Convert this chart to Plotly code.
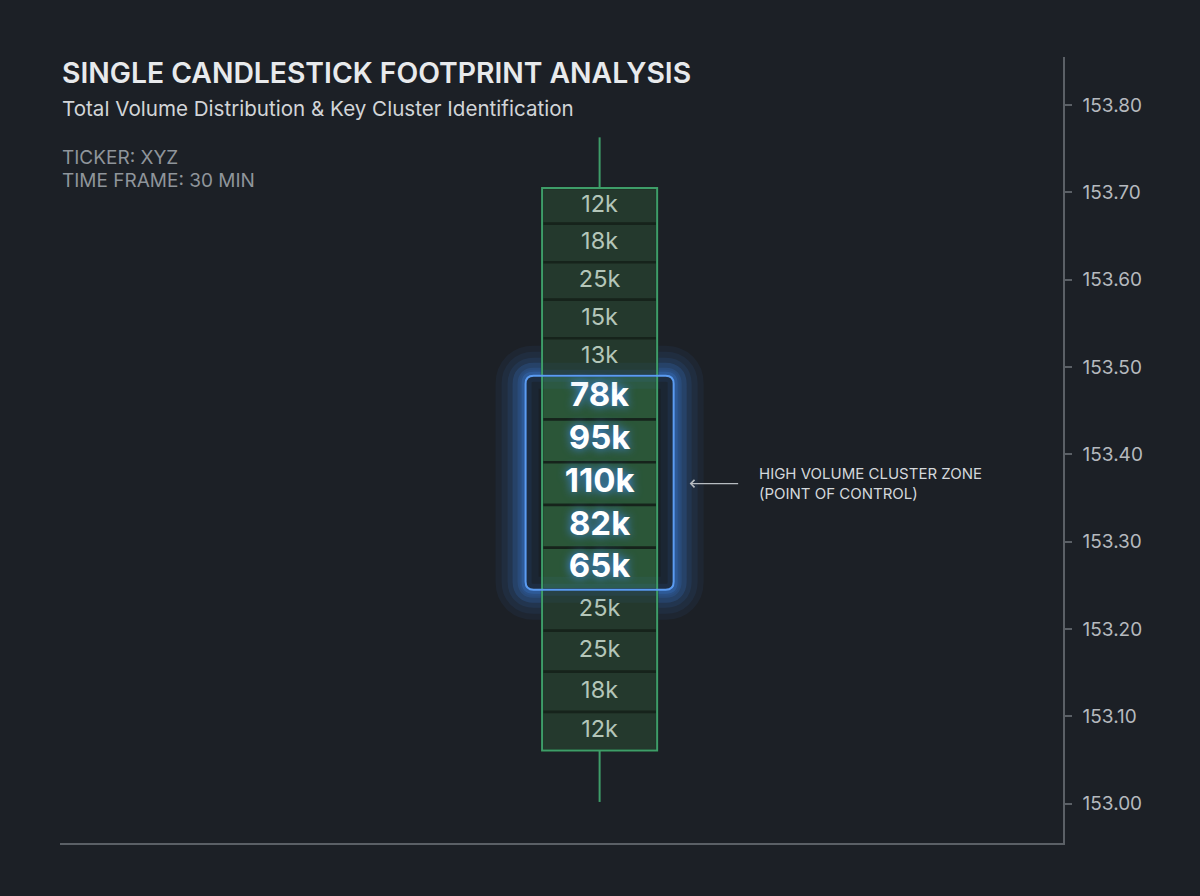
import plotly.graph_objects as go

# ---------------- data ----------------
volume_labels = ["12k", "18k", "25k", "15k", "13k", "78k", "95k", "110k", "82k", "65k", "25k", "25k", "18k", "12k"]
# price boundaries of each footprint cell (top -> bottom), 15 edges for 14 cells
price_edges = [153.705, 153.664, 153.620, 153.577, 153.533, 153.490, 153.440, 153.391,
               153.342, 153.293, 153.245, 153.198, 153.151, 153.105, 153.061]
high_cluster = [False, False, False, False, False, True, True, True, True, True, False, False, False, False]
candle_high = 153.763
candle_low = 153.002
candle_x = 0.538
price_ticks = [153.00, 153.10, 153.20, 153.30, 153.40, 153.50, 153.60, 153.70, 153.80]

title = "SINGLE CANDLESTICK FOOTPRINT ANALYSIS"
subtitle = "Total Volume Distribution & Key Cluster Identification"
ticker_line = "TICKER: XYZ"
timeframe_line = "TIME FRAME: 30 MIN"
callout = "HIGH VOLUME CLUSTER ZONE<br>(POINT OF CONTROL)"

# ---------------- style ----------------
BG = "#1c2026"
GREEN = "#3e9d69"
CELL_FILL = "#24392d"
HOT_FILL = "#2b5638"
SEP = "#16231b"
BLUE = "#3f86ea"
AXIS = "#5b6066"
FONT = "Inter"
body_w = 0.1147
box_half = 0.0738

tops = price_edges[:-1]
bottoms = price_edges[1:]
heights = [t - b for t, b in zip(tops, bottoms)]
centers = [(t + b) / 2 for t, b in zip(tops, bottoms)]

fig = go.Figure()

# footprint cells
fig.add_trace(go.Bar(
    x=[candle_x] * len(heights), y=heights, base=bottoms, width=body_w,
    marker=dict(color=[HOT_FILL if h else CELL_FILL for h in high_cluster],
                line=dict(color=SEP, width=2.5)),
    hoverinfo="skip", showlegend=False,
))

# wicks
body_top = max(price_edges)
body_bot = min(price_edges)
fig.add_trace(go.Scatter(
    x=[candle_x, candle_x, None, candle_x, candle_x],
    y=[candle_high, body_top, None, body_bot, candle_low],
    mode="lines", line=dict(color=GREEN, width=2),
    hoverinfo="skip", showlegend=False,
))

# labels: normal cells
nx = [candle_x for h in high_cluster if not h]
ny = [c for c, h in zip(centers, high_cluster) if not h]
nt = [l for l, h in zip(volume_labels, high_cluster) if not h]
fig.add_trace(go.Scatter(
    x=nx, y=ny, text=nt, mode="text",
    textfont=dict(family=FONT, size=23.5, color="#b4c6b9"),
    hoverinfo="skip", showlegend=False,
))
# labels: high volume cells
hx = [candle_x for h in high_cluster if h]
hy = [c for c, h in zip(centers, high_cluster) if h]
ht = [l for l, h in zip(volume_labels, high_cluster) if h]
fig.add_trace(go.Scatter(
    x=hx, y=hy, text=ht, mode="text",
    textfont=dict(family=FONT, size=33, color="#ffffff", weight=700,
                  shadow="0px 0px 10px rgba(70,140,255,0.95)"),
    hoverinfo="skip", showlegend=False,
))

# highlight zone (rounded rectangle in data coordinates)
hz_top = max(t for t, h in zip(tops, high_cluster) if h)
hz_bot = min(b for b, h in zip(bottoms, high_cluster) if h)
x0, x1 = candle_x - box_half, candle_x + box_half
rx = 8 / 1003
ry = 8 / 873.75


def rounded(x0, x1, y0, y1, rx, ry):
    return (f"M{x0+rx},{y1} L{x1-rx},{y1} Q{x1},{y1} {x1},{y1-ry} "
            f"L{x1},{y0+ry} Q{x1},{y0} {x1-rx},{y0} L{x0+rx},{y0} "
            f"Q{x0},{y0} {x0},{y0+ry} L{x0},{y1-ry} Q{x0},{y1} {x0+rx},{y1} Z")


box_path = rounded(x0, x1, hz_bot, hz_top, rx, ry)
shapes = []
# outer glow (below traces)
for w, op in [(60, 0.06), (48, 0.07), (36, 0.09), (26, 0.11), (16, 0.14), (8, 0.2)]:
    shapes.append(dict(type="path", path=box_path, xref="x", yref="y", layer="below",
                       line=dict(color=BLUE, width=w), opacity=op))
# dark interior covering the inner half of the glow
shapes.append(dict(type="path", path=box_path, xref="x", yref="y", layer="below",
                   fillcolor="#192027", line=dict(width=0)))
# faint glow bleeding onto neighbouring cells
for w, op in [(26, 0.06), (12, 0.08)]:
    shapes.append(dict(type="path", path=box_path, xref="x", yref="y", layer="above",
                       line=dict(color=BLUE, width=w), opacity=op))
# body outline
shapes.append(dict(type="rect", xref="x", yref="y", x0=candle_x - body_w / 2, x1=candle_x + body_w / 2,
                   y0=body_bot, y1=body_top, line=dict(color=GREEN, width=2), layer="above"))
# crisp zone outline
shapes.append(dict(type="path", path=box_path, xref="x", yref="y", layer="above",
                   line=dict(color="#5b9cf2", width=2)))

y_poc = centers[volume_labels.index("110k")]
annotations = [
    dict(text=title, x=0, y=(843 - 73) / 786, xref="paper", yref="paper", xanchor="left", yanchor="middle",
         showarrow=False, font=dict(family=FONT, size=28.3, color="#e8eaec", weight=600)),
    dict(text=subtitle, x=0, y=(843 - 108) / 786, xref="paper", yref="paper", xanchor="left", yanchor="middle",
         showarrow=False, font=dict(family=FONT, size=20.6, color="#d2d5d8")),
    dict(text=ticker_line, x=0, y=(843 - 157) / 786, xref="paper", yref="paper", xanchor="left", yanchor="middle",
         showarrow=False, font=dict(family=FONT, size=19, color="#8f959b")),
    dict(text=timeframe_line, x=0, y=(843 - 181) / 786, xref="paper", yref="paper", xanchor="left", yanchor="middle",
         showarrow=False, font=dict(family=FONT, size=19, color="#8f959b")),
    # arrow
    dict(x=x1 + 16 / 1003, y=y_poc, xref="x", yref="y",
         ax=50, ay=0, showarrow=True, arrowhead=4, arrowsize=1.2, arrowwidth=1.2, arrowcolor="#b7bcc1",
         text=""),
    dict(text=callout, x=x1 + 83 / 1003, y=y_poc, xref="x", yref="y",
         xanchor="left", yanchor="middle", align="left", showarrow=False,
         font=dict(family=FONT, size=15, color="#d4d8dc")),
]

fig.update_layout(
    width=1200, height=896,
    paper_bgcolor=BG, plot_bgcolor=BG,
    margin=dict(l=60, r=137, t=57, b=53),
    barmode="overlay", showlegend=False,
    shapes=shapes, annotations=annotations,
    xaxis=dict(range=[0, 1], showgrid=False, zeroline=False, showticklabels=False, ticks="",
               showline=True, linecolor=AXIS, linewidth=1.5, fixedrange=True),
    yaxis=dict(range=[152.955, 153.855], side="right", showgrid=False, zeroline=False,
               tickvals=price_ticks, ticktext=[f"{p:.2f}" for p in price_ticks],
               ticks="outside", ticklen=7, tickcolor=AXIS, tickwidth=1.5,
               showline=True, linecolor=AXIS, linewidth=1.5, ticklabelstandoff=7,
               tickfont=dict(family=FONT, size=19, color="#b5b9be"), fixedrange=True),
)

fig.write_html(
    "out.html",
    config={"displayModeBar": False},
    post_script="document.body.style.margin='0';document.body.style.background='#1c2026';"
                "window.dispatchEvent(new Event('resize'));",
)
